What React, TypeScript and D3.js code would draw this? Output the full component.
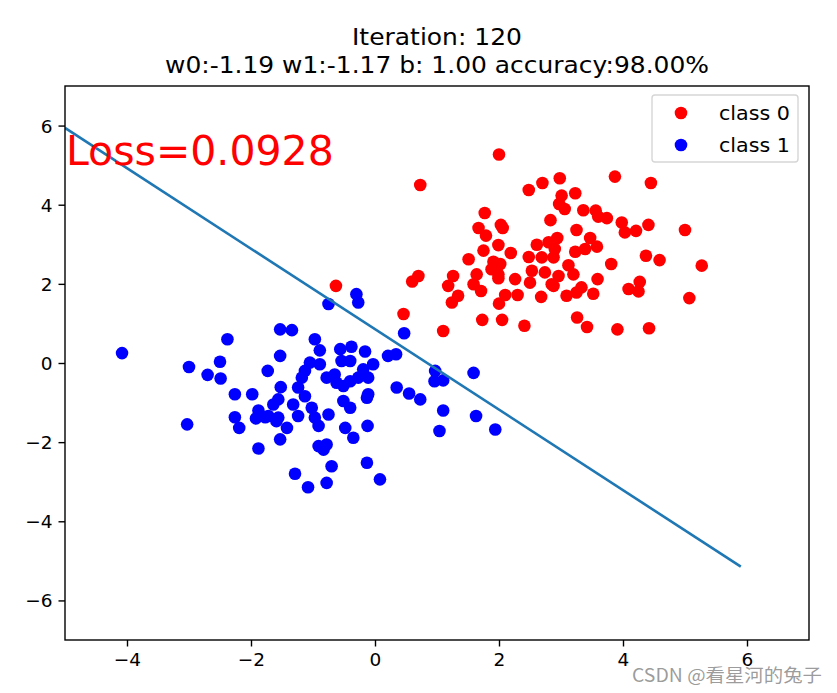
import React, { useEffect, useRef } from "react";
import * as d3 from "d3";

// class 0 (red) points
const class0X = [2.0, 0.73, 2.48, 2.70, 1.77, 2.83, 1.67, 2.03, 2.06, 1.79, 1.99, 1.75, 2.19, 1.51, 1.91, 2.02, 2.61, 2.80, 2.48, 2.69, 2.53, 2.74, 2.50, 2.85, 1.88, 1.99, 1.64, 1.26, 1.18, 1.59, 1.71, 2.26, 1.99, 1.34, 1.24, 2.10, 2.0, 2.30, 2.68, 0.70, 0.60, 1.73, 2.05, 2.41, 1.10, 0.46, -0.63,
  2.98, 3.87, 4.45, 3.01, 3.23, 2.97, 3.06, 3.36, 3.56, 3.60, 3.74, 3.98, 4.03, 4.21, 4.41, 5.0, 3.25, 2.94, 3.47, 3.58, 3.39, 3.23, 2.90, 2.88, 4.37, 4.59, 3.81, 3.12, 5.27, 3.20, 2.96, 3.59, 2.88, 3.09, 3.33, 3.25, 3.52, 4.09, 4.27, 4.25, 5.07, 3.26, 3.42, 3.91, 4.42];
const class0Y = [5.27, 4.5, 4.37, 4.55, 3.79, 3.61, 3.41, 3.49, 3.41, 3.22, 2.98, 2.84, 2.78, 2.62, 2.56, 2.50, 2.99, 3.05, 2.68, 2.67, 2.33, 2.29, 2.03, 1.99, 2.37, 2.24, 2.24, 2.20, 1.95, 1.99, 1.82, 2.12, 2.14, 1.70, 1.53, 1.72, 1.50, 1.72, 1.67, 2.20, 2.06, 1.09, 1.09, 0.94, 0.81, 1.24, 1.95,
  4.67, 4.71, 4.55, 4.23, 4.29, 4.02, 3.89, 3.86, 3.85, 3.70, 3.66, 3.55, 3.30, 3.34, 3.49, 3.36, 3.36, 3.16, 3.16, 2.94, 2.88, 2.81, 2.88, 2.67, 2.71, 2.60, 2.50, 2.47, 2.46, 2.24, 2.20, 2.12, 1.95, 1.70, 1.91, 1.78, 1.75, 1.87, 2.05, 1.81, 1.64, 1.15, 0.91, 0.85, 0.88];

// class 1 (blue) points
const class1X = [-4.08, -2.38, -3.0, -2.50, -2.70, -2.49, -2.26, -1.98, -1.73, -3.03, -2.26, -2.19, -1.88, -1.92, -1.77, -1.88, -1.64,
  -0.75, -0.30, -0.27, 0.47, -1.53, -1.34, -0.97, -0.89, -1.53, -0.56, -0.38, -0.16, -0.54, -0.40, -0.03, 0.21, 0.34, -1.05, -0.89, -1.13, -1.18, -1.24, -0.78, -0.65, -0.62, -0.51, -0.40, -0.27, -0.11, -0.19, -1.52, -1.13, -1.56, -1.32, -1.72, -1.56, -1.42, -1.53, -1.24, -1.02, -0.97, -0.91, -0.75, -0.51, -0.40, -0.11, -0.13, -0.48, -0.35, -0.12, -0.91, -0.78, -0.83, -0.70, -0.13, -1.29, -1.08, -0.78, 0.08, 0.35, 0.55, 0.73, 0.97, 0.96, 1.10, 1.59, 1.10, 1.63, 1.04, 1.94, -1.59];
const class1Y = [0.25, 0.60, -0.10, 0.03, -0.30, -0.39, -0.79, -0.79, -0.20, -1.55, -1.37, -1.64, -1.20, -1.40, -1.37, -2.16, -1.05,
  1.49, 1.74, 1.53, 0.75, 0.85, 0.83, 0.60, 0.32, 0.18, 0.35, 0.41, 0.29, 0.05, 0.05, -0.03, 0.18, 0.22, 0.01, -0.03, -0.20, -0.37, -0.62, -0.37, -0.29, -0.50, -0.58, -0.46, -0.37, -0.37, -0.16, -0.61, -0.84, -0.92, -1.05, -1.34, -1.38, -1.64, -1.93, -1.34, -1.13, -1.38, -1.59, -1.30, -0.96, -1.13, -0.79, -0.88, -1.64, -1.89, -1.59, -2.10, -2.06, -2.19, -2.61, -2.52, -2.80, -3.14, -3.03, -2.94, -0.62, -0.77, -0.92, -0.20, -0.46, -0.44, -0.25, -1.20, -1.34, -1.72, -1.68, -1.47];

// model parameters
const w0 = -1.19;
const w1 = -1.17;
const bias = 1.0;
const lineXs = [-5, 5.9];
const iteration = 120;
const accuracy = 98.0;
const loss = 0.0928;

const xTicks = [-4, -2, 0, 2, 4, 6];
const yTicks = [-6, -4, -2, 0, 2, 4, 6];
const legendLabels = ["class 0", "class 1"];
const legendColors = ["#ff0000", "#0000ff"];

const W = 837;
const H = 693;
const margin = { left: 65, right: 28, top: 86, bottom: 53 };
const font = "'DejaVu Sans', sans-serif";

const App: React.FC = () => {
  const svgRef = useRef<SVGSVGElement | null>(null);

  useEffect(() => {
    document.body.style.margin = "0";
    if (!svgRef.current) return;
    const svg = d3.select(svgRef.current);
    svg.selectAll("*").remove();

    const x = d3.scaleLinear().domain([-5, 7]).range([margin.left, W - margin.right]);
    const y = d3.scaleLinear().domain([-7, 7]).range([H - margin.bottom, margin.top]);

    svg.append("rect").attr("width", W).attr("height", H).attr("fill", "#fff");

    // clip to axes
    svg.append("clipPath").attr("id", "clip").append("rect")
      .attr("x", margin.left).attr("y", margin.top)
      .attr("width", W - margin.left - margin.right)
      .attr("height", H - margin.top - margin.bottom);
    const plot = svg.append("g").attr("clip-path", "url(#clip)");

    const r = 6.3;
    plot.selectAll(".c0").data(class0X).enter().append("circle")
      .attr("cx", (d) => x(d)).attr("cy", (_, i) => y(class0Y[i]))
      .attr("r", r).attr("fill", legendColors[0]);
    plot.selectAll(".c1").data(class1X).enter().append("circle")
      .attr("cx", (d) => x(d)).attr("cy", (_, i) => y(class1Y[i]))
      .attr("r", r).attr("fill", legendColors[1]);

    const boundary = (xv: number) => -(w0 * xv + bias) / w1;
    const line = d3.line<number>().x((d) => x(d)).y((d) => y(boundary(d)));
    plot.append("path").attr("d", line(lineXs) || "")
      .attr("fill", "none").attr("stroke", "#1f77b4").attr("stroke-width", 2.6);

    // loss text
    svg.append("text").attr("x", x(-5) + 1).attr("y", 165)
      .attr("font-family", font).attr("font-size", 41).attr("fill", "#ff0000")
      .text(`Loss=${loss.toFixed(4)}`);

    // frame
    svg.append("rect")
      .attr("x", margin.left).attr("y", margin.top)
      .attr("width", W - margin.left - margin.right)
      .attr("height", H - margin.top - margin.bottom)
      .attr("fill", "none").attr("stroke", "#000").attr("stroke-width", 1.4);

    const fmt = (v: number) => (v < 0 ? "\u2212" + Math.abs(v) : String(v));

    const xAxis = svg.append("g").attr("transform", `translate(0,${H - margin.bottom})`)
      .call(d3.axisBottom(x).tickValues(xTicks).tickSize(6.5).tickPadding(6).tickFormat((d) => fmt(d as number)));
    const yAxis = svg.append("g").attr("transform", `translate(${margin.left},0)`)
      .call(d3.axisLeft(y).tickValues(yTicks).tickSize(6.5).tickPadding(6).tickFormat((d) => fmt(d as number)));
    [xAxis, yAxis].forEach((a) => {
      a.select(".domain").remove();
      a.selectAll("text").attr("font-family", font).attr("font-size", 18.5).attr("fill", "#000");
      a.selectAll("line").attr("stroke", "#000").attr("stroke-width", 1.4);
    });
    yAxis.selectAll("text").attr("dy", "0.35em");

    // title
    const cx = (margin.left + W - margin.right) / 2;
    svg.append("text").attr("x", cx).attr("y", 45).attr("text-anchor", "middle")
      .attr("font-family", font).attr("font-size", 22.5)
      .attr("textLength", 170).attr("lengthAdjust", "spacingAndGlyphs")
      .text(`Iteration: ${iteration}`);
    svg.append("text").attr("x", cx).attr("y", 73).attr("text-anchor", "middle")
      .attr("font-family", font).attr("font-size", 22.5)
      .attr("textLength", 544).attr("lengthAdjust", "spacingAndGlyphs")
      .text(`w0:${w0.toFixed(2)} w1:${w1.toFixed(2)} b: ${bias.toFixed(2)} accuracy:${accuracy.toFixed(2)}%`);

    // legend
    const lg = svg.append("g");
    lg.append("rect").attr("x", 652).attr("y", 95).attr("width", 146).attr("height", 67)
      .attr("rx", 3).attr("fill", "#fff").attr("fill-opacity", 0.8)
      .attr("stroke", "#d6d6d6").attr("stroke-width", 1.4);
    legendLabels.forEach((lab, i) => {
      const ly = 113 + i * 32;
      lg.append("circle").attr("cx", 681).attr("cy", ly).attr("r", 6.3).attr("fill", legendColors[i]);
      lg.append("text").attr("x", 719).attr("y", ly).attr("dy", "0.35em")
        .attr("font-family", font).attr("font-size", 19)
        .attr("textLength", 71).attr("lengthAdjust", "spacingAndGlyphs").text(lab);
    });

    // watermark
    svg.append("text").attr("x", 822).attr("y", 682).attr("text-anchor", "end")
      .attr("font-family", "'Noto Sans CJK SC', sans-serif").attr("font-size", 18)
      .attr("textLength", 190).attr("lengthAdjust", "spacingAndGlyphs")
      .attr("fill", "#8a8a8a").attr("fill-opacity", 0.85).text("CSDN @看星河的兔子");
  }, []);

  return <svg ref={svgRef} width={W} height={H} style={{ display: "block" }} />;
};

export default App;
